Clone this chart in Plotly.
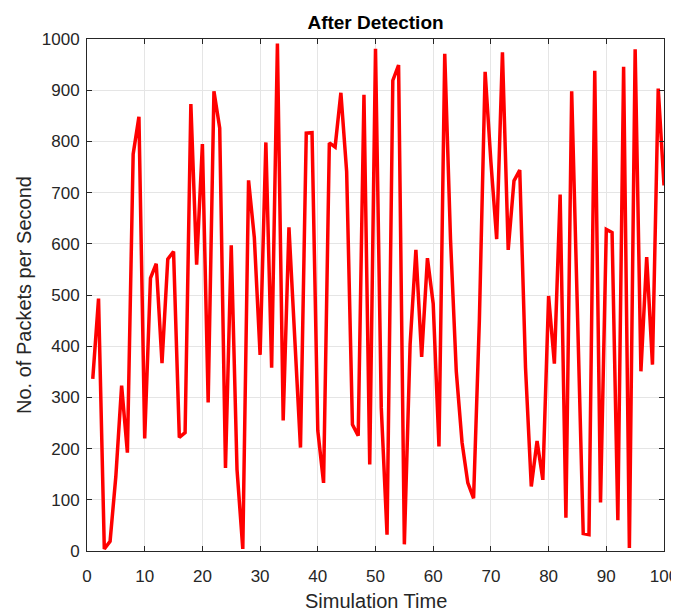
import plotly.graph_objects as go

time = list(range(1, 101))
packets = [336, 493, 4, 19, 146, 323, 192, 775, 848, 220,
           533, 561, 367, 570, 585, 222, 231, 873, 559, 795,
           290, 898, 826, 162, 597, 159, 4, 724, 612, 383,
           798, 358, 991, 255, 632, 415, 202, 816, 817, 235,
           133, 797, 789, 895, 741, 247, 225, 891, 169, 981,
           280, 32, 919, 949, 13, 404, 588, 379, 572, 483,
           204, 971, 609, 351, 212, 133, 103, 450, 936, 760,
           609, 974, 588, 723, 744, 358, 126, 215, 139, 498,
           366, 696, 65, 898, 460, 34, 32, 938, 95, 628,
           622, 60, 946, 6, 980, 351, 574, 364, 903, 714]

x_ticks = [0, 10, 20, 30, 40, 50, 60, 70, 80, 90, 100]
y_ticks = [0, 100, 200, 300, 400, 500, 600, 700, 800, 900, 1000]

FONT = "Liberation Sans, Arial"
W, H = 671, 600
L, R, T, B = 79, 15, 31, 57

fig = go.Figure()
fig.add_trace(go.Scatter(x=time, y=packets, mode="lines",
                         line=dict(color="#ff0000", width=3.5)))

axis_common = dict(
    showline=True, linecolor="#262626", linewidth=1, mirror="ticks",
    ticks="inside", ticklen=5, tickcolor="#262626",
    showgrid=True, gridcolor="#e5e5e5", gridwidth=1,
    zeroline=False, automargin=False,
    tickfont=dict(family=FONT, size=17, color="#262626"),
)

fig.update_layout(
    width=W, height=H,
    margin=dict(l=L, r=R, t=T, b=B, autoexpand=False),
    paper_bgcolor="white", plot_bgcolor="white",
    showlegend=False,
    title=dict(text="<b>After Detection</b>", x=0.5, xref="paper", xanchor="center",
               y=1 - 14 / H, yanchor="middle",
               font=dict(family=FONT, size=19, color="#000000")),
    xaxis=dict(range=[0, 100], tickvals=x_ticks, ticklabelstandoff=10, **axis_common),
    yaxis=dict(range=[0, 1000], tickvals=y_ticks, ticklabelstandoff=3, **axis_common),
    annotations=[
        dict(text="Simulation Time", xref="paper", yref="paper", x=0.5, y=0,
             xanchor="center", yanchor="middle", yshift=-50, showarrow=False,
             font=dict(family=FONT, size=20, color="#262626")),
        dict(text="No. of Packets per Second", xref="paper", yref="paper", x=0, y=0.5,
             xanchor="center", yanchor="middle", xshift=-(L - 16), textangle=-90,
             showarrow=False, font=dict(family=FONT, size=20, color="#262626")),
    ],
)

fig.write_html("out.html")
